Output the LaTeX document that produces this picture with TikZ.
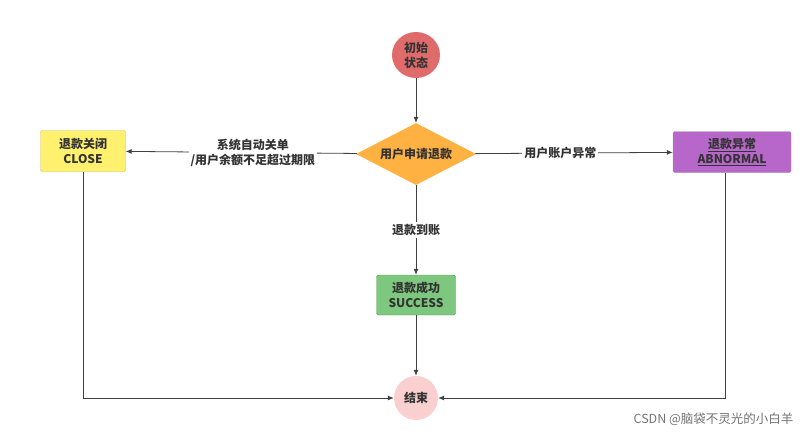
\documentclass[tikz,border=0pt]{standalone}
\usepackage{fontspec}
\setmainfont{Noto Sans CJK SC}
\usetikzlibrary{shapes.geometric,arrows.meta}
\definecolor{startred}{HTML}{E06B6B}
\definecolor{decorange}{HTML}{FFB142}
\definecolor{closeyellow}{HTML}{FFF06E}
\definecolor{abnpurple}{HTML}{B766C9}
\definecolor{succgreen}{HTML}{7DC77F}
\definecolor{endpink}{HTML}{F9CFCF}
\begin{document}
\begin{tikzpicture}[x=1pt,y=-1pt, font=\bfseries\fontsize{12}{15}\selectfont, text=black!80,
    state/.style={draw=#1!80!black, fill=#1, rounded corners=1.5pt, line width=0.4pt, minimum height=41pt, align=center, inner sep=1pt},
    round/.style={ellipse, fill=#1, minimum width=48pt, minimum height=46pt, align=center, inner sep=0pt},
    arr/.style={-{Latex[length=6pt,width=5pt]}, draw=black!75, line width=0.8pt},
    lbl/.style={fill=white, align=center, inner sep=2pt}]
    \useasboundingbox (0,0) rectangle (803,439);
        \node[round=startred] (start) at (416,55) {初始\\状态};
        \node[diamond, fill=decorange, minimum width=120pt, minimum height=62pt, aspect=2, inner sep=0pt] (apply) at (416,154) {用户申请退款};
        \node[state=closeyellow, minimum width=85pt] (close) at (83,151) {退款关闭\\CLOSE};
        \node[state=abnpurple, minimum width=118pt, draw=black!40] (abn) at (732,152) {\underline{退款异常}\\\underline{ABNORMAL}};
        \node[state=succgreen, minimum width=79pt, minimum height=40pt] (succ) at (416,295) {退款成功\\SUCCESS};
        \node[round=endpink, minimum width=44pt, minimum height=44pt] (end) at (416,398) {结束};
        \draw[arr] (start) -- (apply);
        \draw[arr] (apply) -- node[lbl, pos=0.45] {系统自动关单\\/用户余额不足超过期限} (close);
        \draw[arr] (apply) -- node[lbl, pos=0.43] {用户账户异常} (abn);
        \draw[arr] (apply) -- node[lbl] {退款到账} (succ);
        \draw[arr] (succ) -- (end);
        \draw[arr] (close) |- (end);
        \draw[arr] (abn.south -| 725,0) |- (end);
        \node[font=\fontsize{12.5}{14}\selectfont, text=black!55, anchor=east] (mark) at (797,419) {CSDN @脑袋不灵光的小白羊};
    \end{tikzpicture}
\end{document}
